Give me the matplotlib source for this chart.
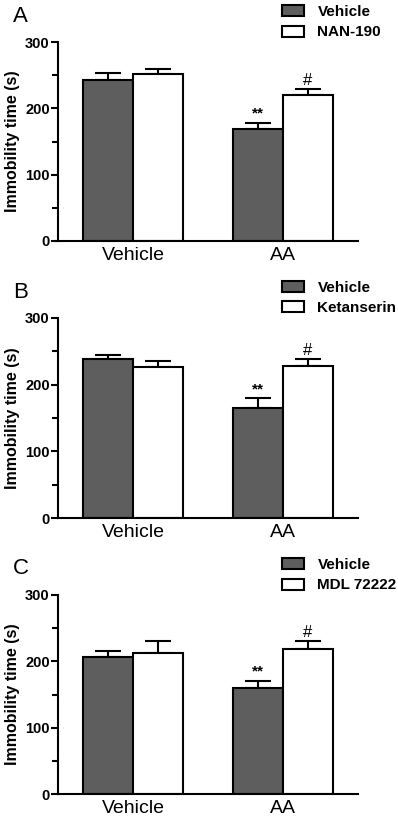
import numpy as np
import matplotlib
matplotlib.use("Agg")
import matplotlib.pyplot as plt
from matplotlib.ticker import MultipleLocator

plt.rcParams['font.family'] = ['Liberation Sans', 'DejaVu Sans']

groups = ["Vehicle", "AA"]
panels = ["A", "B", "C"]
drugs = ["NAN-190", "Ketanserin", "MDL 72222"]

# mean and SEM: [Vehicle group, AA group]
veh_mean = [[242, 169], [238, 165], [207, 160]]
veh_sem = [[11, 9], [7, 15], [9, 11]]
drug_mean = [[252, 220], [226, 228], [213, 218]]
drug_sem = [[7, 9], [10, 10], [17, 12]]

dark = "#5e5e5e"
W, H = 398, 817
fig = plt.figure(figsize=(W / 100, H / 100), dpi=100)

# axes boxes in pixels: (left, top of 300 line, right, bottom at 0)
boxes = [(58, 42, 358, 241), (58, 318, 358, 518), (58, 595, 358, 794)]

x = np.arange(len(groups))
bw = 1 / 3

for i, (l, t, r, b) in enumerate(boxes):
    ax = fig.add_axes([l / W, 1 - b / H, (r - l) / W, (b - t) / H])
    ax.bar(x - bw / 2, veh_mean[i], bw, color=dark, edgecolor="black", linewidth=1.5,
           label="Vehicle", zorder=2)
    ax.bar(x + bw / 2, drug_mean[i], bw, color="white", edgecolor="black", linewidth=1.5,
           label=drugs[i], zorder=2)
    ax.errorbar(x - bw / 2, veh_mean[i], yerr=[np.zeros(2), veh_sem[i]], fmt="none",
                ecolor="black", elinewidth=1.5, capsize=9.5, capthick=1.5, zorder=1)
    ax.errorbar(x + bw / 2, drug_mean[i], yerr=[np.zeros(2), drug_sem[i]], fmt="none",
                ecolor="black", elinewidth=1.5, capsize=9.5, capthick=1.5, zorder=1)

    # significance marks
    ax.text(x[1] - bw / 2, veh_mean[i][1] + veh_sem[i][1] + 3, "**", ha="center", va="bottom",
            fontsize=11, fontweight="bold")
    ax.text(x[1] + bw / 2, drug_mean[i][1] + drug_sem[i][1] + 2, "#", ha="center", va="bottom",
            fontsize=12)

    ax.set_xlim(-0.5, 1.5)
    ax.set_ylim(0, 300)
    ax.set_xticks(x)
    ax.set_xticklabels(groups, fontsize=14)
    ax.tick_params(axis="x", length=0, pad=4.5)
    ax.yaxis.set_major_locator(MultipleLocator(100))
    ax.yaxis.set_minor_locator(MultipleLocator(50))
    ax.tick_params(axis="y", which="major", length=5, width=1.5, labelsize=10.5, pad=1)
    ax.tick_params(axis="y", which="minor", length=4, width=1.5)
    for lab in ax.get_yticklabels():
        lab.set_fontweight("bold")
    for s in ["top", "right"]:
        ax.spines[s].set_visible(False)
    for s in ["left", "bottom"]:
        ax.spines[s].set_linewidth(1.5)
    ax.set_ylabel("Immobility time (s)", fontsize=11.5, fontweight="bold")
    ax.yaxis.set_label_coords(-0.127, 0.5)

    leg = ax.legend(loc="upper left", bbox_to_anchor=(0.745, 1.186), frameon=False,
                    borderpad=0, borderaxespad=0, handlelength=1.5, handleheight=0.72,
                    handletextpad=0.85, labelspacing=0.42,
                    prop={"size": 11, "weight": "bold"})
    for p in leg.get_patches():
        p.set_linewidth(1.5)

    fig.text(13 / W, 1 - (boxes[i][1] - 26) / H, panels[i], fontsize=16, ha="left", va="center")

fig.savefig("out.png", dpi=100)
